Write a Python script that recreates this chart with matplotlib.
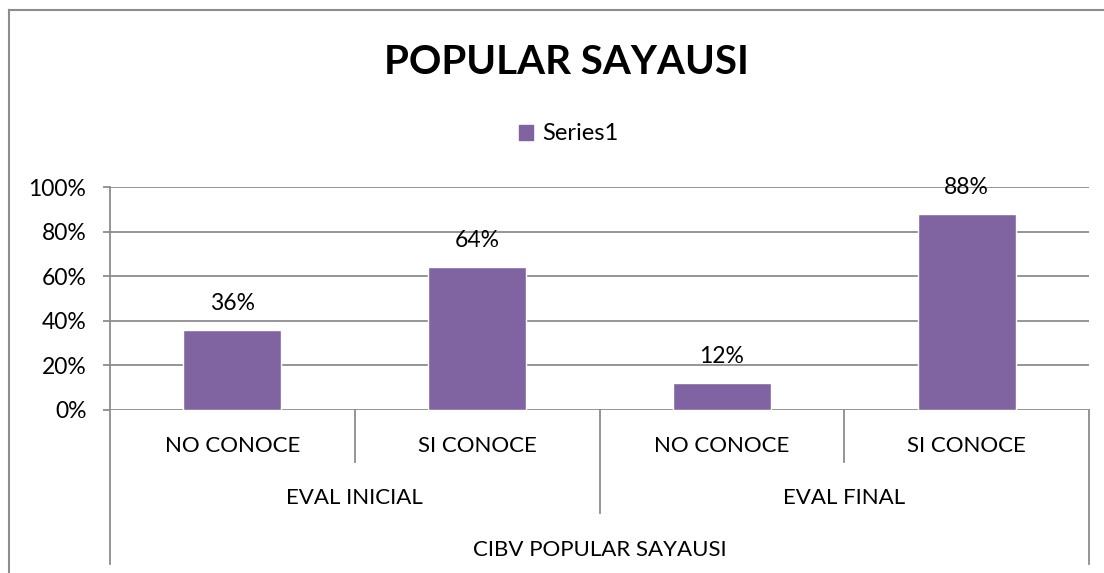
import matplotlib.pyplot as plt
from matplotlib.lines import Line2D
from matplotlib.patches import Patch

# datos
categorias = ["NO CONOCE", "SI CONOCE", "NO CONOCE", "SI CONOCE"]
grupos = ["EVAL INICIAL", "EVAL FINAL"]
centro = "CIBV POPULAR SAYAUSI"
valores = [0.36, 0.64, 0.12, 0.88]
ticks_y = [0.0, 0.2, 0.4, 0.6, 0.8, 1.0]

morado = "#8064A2"
gris = "#8C8C8C"
fuente = "Lato"
tam = 16

W, H = 1104, 573
fig = plt.figure(figsize=(W / 100, H / 100), dpi=100)

# borde del area del grafico
fig.add_artist(Line2D([9 / W, 9 / W], [0, 1 - 10 / H], color=gris, lw=1.5))
fig.add_artist(Line2D([9 / W, 1], [1 - 10 / H, 1 - 10 / H], color=gris, lw=1.5))

ax = fig.add_axes([110 / W, 1 - 410 / H, (1089 - 110) / W, 223 / H])
x = list(range(len(categorias)))
barras = ax.bar(x, valores, width=0.4, color=morado, edgecolor="white", linewidth=1, zorder=3)
ax.set_xlim(-0.5, 3.5)
ax.set_ylim(0, 1.0)
ax.set_yticks(ticks_y)
ax.set_yticklabels([f"{int(t * 100)}%" for t in ticks_y], fontsize=tam + 0.5, family=fuente)
ax.grid(axis="y", color=gris, lw=1.3, zorder=0)
ax.set_xticks([])
for s in ["top", "right", "bottom"]:
    ax.spines[s].set_visible(False)
ax.spines["left"].set_color(gris)
ax.spines["left"].set_linewidth(1.3)
ax.tick_params(axis="y", length=5, width=1.3, color=gris, pad=12)

# etiquetas de valores
for b, v in zip(barras, valores):
    ax.annotate(f"{v:.0%}", (b.get_x() + b.get_width() / 2, v), xytext=(0, 19),
                textcoords="offset points", ha="center", va="center", fontsize=tam + 0.5, family=fuente)

# tabla de categorias bajo el eje
trans = ax.get_xaxis_transform()
kw = dict(color=gris, lw=1.3, transform=trans, clip_on=False)
ax.plot([-0.5, -0.5], [0, -0.691], **kw)
ax.plot([3.5, 3.5], [0, -0.691], **kw)
ax.plot([0.5, 0.5], [0, -0.233], **kw)
ax.plot([2.5, 2.5], [0, -0.233], **kw)
ax.plot([1.5, 1.5], [0, -0.462], **kw)
for i, c in enumerate(categorias):
    ax.text(i, -0.161, c, transform=trans, ha="center", va="center", fontsize=tam, family=fuente)
for j, g in enumerate(grupos):
    ax.text(0.5 + 2 * j, -0.395, g, transform=trans, ha="center", va="center", fontsize=tam, family=fuente)
ax.text(1.5, -0.628, centro, transform=trans, ha="center", va="center", fontsize=tam, family=fuente)

fig.text(566 / W, 1 - 62 / H, "POPULAR SAYAUSI", ha="center", va="center",
         fontsize=29, fontweight="bold", family=fuente)
fig.legend(handles=[Patch(color=morado, label="Series1")], loc="center",
           bbox_to_anchor=(569 / W, 1 - 134 / H), frameon=False, handlelength=0.6,
           handleheight=0.6, handletextpad=0.4, prop={"family": fuente, "size": tam + 1})

fig.savefig("out.png", dpi=100)
